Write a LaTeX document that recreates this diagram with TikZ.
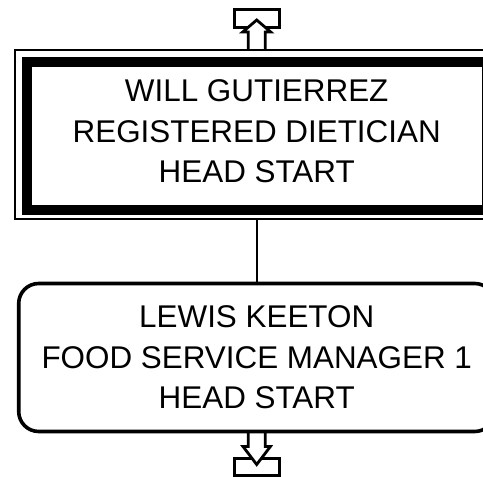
\documentclass[tikz,border=0pt]{standalone}
\usepackage{fontspec}
\setmainfont{Liberation Sans}
\begin{document}
\begin{tikzpicture}[x=1pt,y=-1pt,
  lbl/.style={font=\fontsize{31.4}{40.6}\selectfont, align=center, inner sep=0pt},
  thickbox/.style={draw, line width=9.8pt, outer sep=0pt, inner sep=0pt, minimum width=459.4pt, minimum height=148pt},
  thinframe/.style={draw, line width=2.3pt},
  roundbox/.style={draw, line width=3.6pt, rounded corners=20pt, outer sep=0pt, inner sep=0pt, minimum width=476pt, minimum height=148pt},
  tab/.style={draw, line width=3pt, minimum width=45.4pt, minimum height=17.4pt, inner sep=0pt, outer sep=0pt, fill=white},
  tabarrow/.style={draw, line width=2.8pt, fill=white, line join=miter},
  link/.style={draw, line width=2.2pt}]
\useasboundingbox (0,0) rectangle (483,477);
\clip (0,0) rectangle (483,477);
% off-page tabs
\node[tab] (uptab) at (256.7,18.3) {};
\node[tab] (downtab) at (256.7,466.7) {};
\draw[tabarrow] (248.2,50) -- (248.2,32) -- (242.7,32) -- (256.7,20) -- (270.7,32) -- (265.2,32) -- (265.2,50);
\draw[tabarrow] (248.2,431.5) -- (248.2,446.5) -- (243,446.5) -- (256.7,464.5) -- (270.4,446.5) -- (265.2,446.5) -- (265.2,431.5);
% upper box
\node[thickbox] (will) at (256.7,136.2) {};
\node[lbl] (willtext) at (256.7,131.5) {WILL GUTIERREZ\\REGISTERED DIETICIAN\\HEAD START};
\draw[thinframe] ([xshift=-12pt,yshift=12.3pt]will.north west) coordinate (fnw) rectangle ([xshift=12pt,yshift=-8.8pt]will.south east) coordinate (fse);
% lower box
\node[lbl, roundbox] (keeton) at (256.7,357.5) {LEWIS KEETON\\FOOD SERVICE MANAGER 1\\HEAD START};
\draw[link] (will.south |- fse) -- (keeton.north);
\end{tikzpicture}
\end{document}
